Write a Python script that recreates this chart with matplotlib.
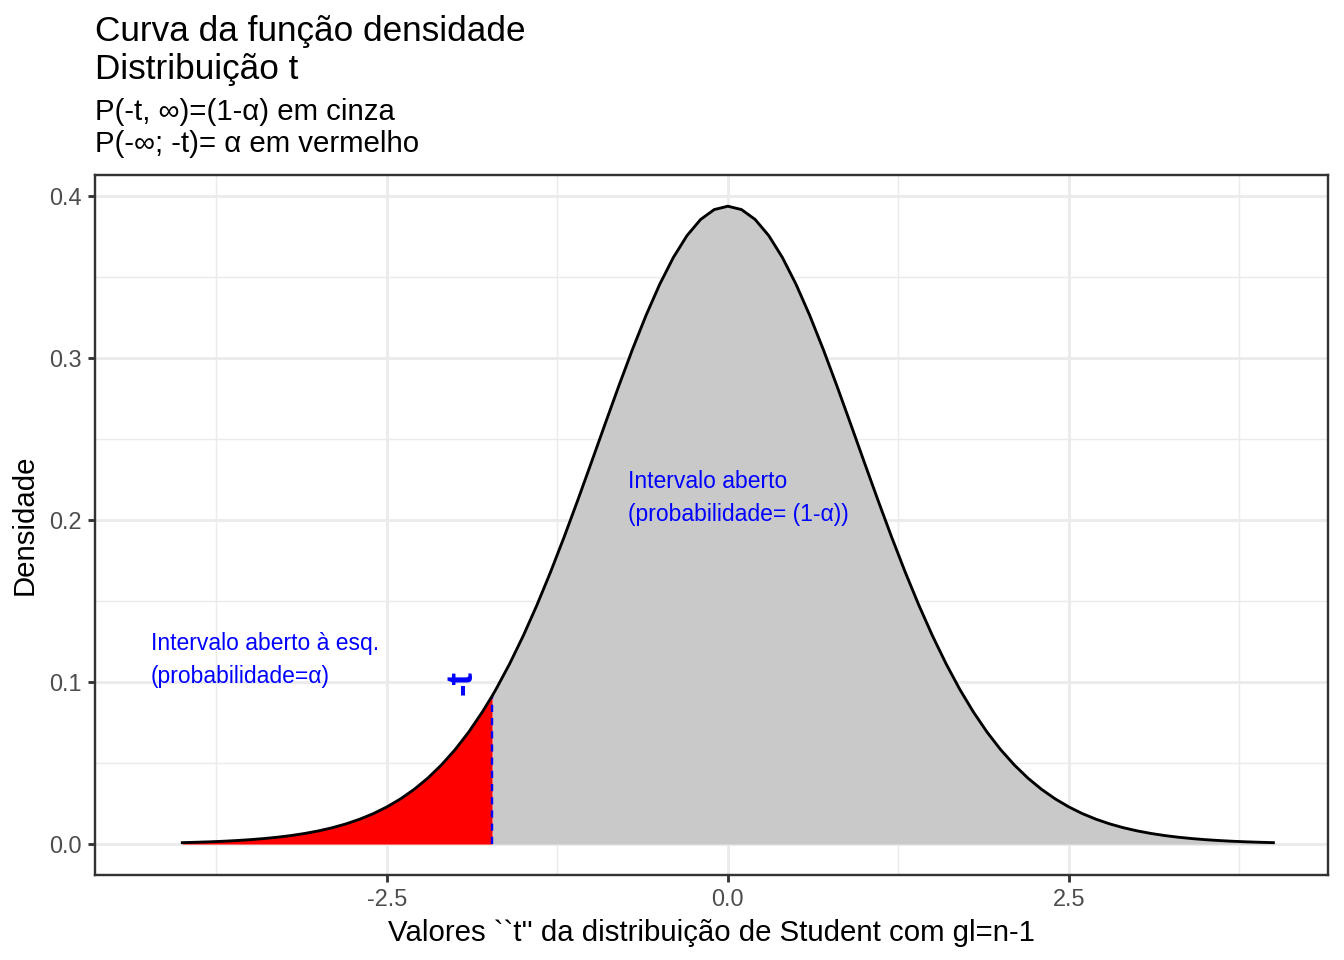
import matplotlib
matplotlib.use("Agg")
import matplotlib.pyplot as plt

# densidade t (gl=19)
x_vals = [-4.0, -3.9, -3.8, -3.7, -3.6, -3.5, -3.4, -3.3, -3.2, -3.1,
          -3.0, -2.9, -2.8, -2.7, -2.6, -2.5, -2.4, -2.3, -2.2, -2.1,
          -2.0, -1.9, -1.8, -1.7, -1.6, -1.5, -1.4, -1.3, -1.2, -1.1,
          -1.0, -0.9, -0.8, -0.7, -0.6, -0.5, -0.4, -0.3, -0.2, -0.1,
          0.0,
          0.1, 0.2, 0.3, 0.4, 0.5, 0.6, 0.7, 0.8, 0.9, 1.0,
          1.1, 1.2, 1.3, 1.4, 1.5, 1.6, 1.7, 1.8, 1.9, 2.0,
          2.1, 2.2, 2.3, 2.4, 2.5, 2.6, 2.7, 2.8, 2.9, 3.0,
          3.1, 3.2, 3.3, 3.4, 3.5, 3.6, 3.7, 3.8, 3.9, 4.0]
dens = [0.00087, 0.00110, 0.00138, 0.00173, 0.00217, 0.00272, 0.00340, 0.00424,
        0.00528, 0.00657, 0.00815, 0.01008, 0.01244, 0.01531, 0.01876, 0.02292,
        0.02788, 0.03376, 0.04070, 0.04884, 0.05827, 0.06914, 0.08155, 0.09555,
        0.11126, 0.12858, 0.14751, 0.16792, 0.18964, 0.21237, 0.23574, 0.25936,
        0.28269, 0.30523, 0.32635, 0.34549, 0.36205, 0.37556, 0.38554, 0.39166,
        0.39373,
        0.39166, 0.38554, 0.37556, 0.36205, 0.34549, 0.32635, 0.30523, 0.28269,
        0.25936, 0.23574, 0.21237, 0.18964, 0.16792, 0.14751, 0.12858, 0.11126,
        0.09555, 0.08155, 0.06914, 0.05827, 0.04884, 0.04070, 0.03376, 0.02788,
        0.02292, 0.01876, 0.01531, 0.01244, 0.01008, 0.00815, 0.00657, 0.00528,
        0.00424, 0.00340, 0.00272, 0.00217, 0.00173, 0.00138, 0.00110, 0.00087]
t_crit = -1.729
dens_crit = 0.0913

x_ticks = [-2.5, 0.0, 2.5]
x_minor = [-3.75, -1.25, 1.25, 3.75]
y_ticks = [0.0, 0.1, 0.2, 0.3, 0.4]
y_minor = [0.05, 0.15, 0.25, 0.35]

# split at -t
left_x = [v for v in x_vals if v < t_crit] + [t_crit]
left_y = [d for v, d in zip(x_vals, dens) if v < t_crit] + [dens_crit]
right_x = [t_crit] + [v for v in x_vals if v > t_crit]
right_y = [dens_crit] + [d for v, d in zip(x_vals, dens) if v > t_crit]
curve_x = left_x + right_x[1:]
curve_y = left_y + right_y[1:]

plt.rcParams["font.family"] = ["Liberation Sans", "DejaVu Sans"]

fig = plt.figure(figsize=(7, 5), dpi=192)
ax = fig.add_axes([95 / 1344, 1 - 875 / 960, (1328 - 95) / 1344, (875 - 175) / 960])

GRID = "#EBEBEB"
ax.set_xticks(x_minor, minor=True)
ax.set_yticks(y_minor, minor=True)
ax.grid(which="major", color=GRID, linewidth=1.07, zorder=0)
ax.grid(which="minor", color=GRID, linewidth=0.55, zorder=0)
ax.set_axisbelow(True)

ax.fill_between(right_x, right_y, 0, color="#C9C9C9", linewidth=0, zorder=1)
ax.fill_between(left_x, left_y, 0, color="#FF0000", linewidth=0, zorder=1)
ax.plot([t_crit, t_crit], [0, dens_crit], color="blue", linewidth=0.9,
        dashes=(3, 2.5), zorder=2)
ax.plot(curve_x, curve_y, color="black", linewidth=1.07, zorder=3,
        solid_joinstyle="round")

ax.text(-0.733, 0.2235, "Intervalo aberto", color="blue", fontsize=8.6,
        ha="left", va="center")
ax.text(-0.733, 0.2035, "(probabilidade= (1-α))", color="blue", fontsize=8.6,
        ha="left", va="center")
ax.text(-4.23, 0.1235, "Intervalo aberto à esq.", color="blue", fontsize=8.6,
        ha="left", va="center")
ax.text(-4.23, 0.1035, "(probabilidade=α)", color="blue", fontsize=8.6,
        ha="left", va="center")
ax.text(-1.95, 0.1, "-t", color="blue", fontsize=14, fontweight="bold",
        rotation=90, ha="center", va="center")

ax.set_xlim(-4.64, 4.40)
ax.set_ylim(-0.0191, 0.413)
ax.set_xticks(x_ticks)
ax.set_xticklabels(["-2.5", "0.0", "2.5"])
ax.set_yticks(y_ticks)
ax.set_yticklabels(["0.0", "0.1", "0.2", "0.3", "0.4"])
ax.tick_params(which="major", length=2.75, width=1.07, color="#333333",
               labelsize=8.8, labelcolor="#4D4D4D", pad=2.2)
ax.tick_params(which="minor", length=0)
for sp in ax.spines.values():
    sp.set_color("#333333")
    sp.set_linewidth(0.9)

ax.set_xlabel("Valores ``t'' da distribuição de Student com gl=n-1", fontsize=11,
              labelpad=3)
ax.set_ylabel("Densidade", fontsize=11, labelpad=4)

x0 = 95 / 1344
fig.text(x0, 1 - 41 / 960, "Curva da função densidade", fontsize=13.2, va="baseline")
fig.text(x0, 1 - 79 / 960, "Distribuição t", fontsize=13.2, va="baseline")
fig.text(x0, 1 - 120 / 960, "P(-t, ∞)=(1-α) em cinza", fontsize=11, va="baseline")
fig.text(x0, 1 - 152 / 960, "P(-∞; -t)= α em vermelho", fontsize=11, va="baseline")

fig.savefig("out.png", dpi=192)
